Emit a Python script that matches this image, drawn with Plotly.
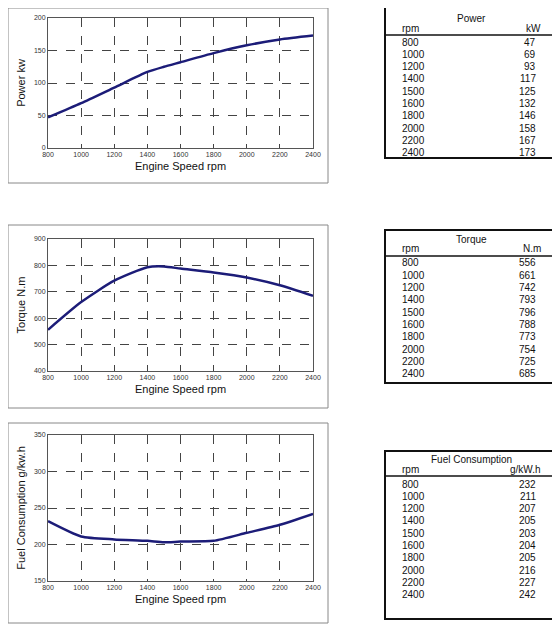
import plotly.graph_objects as go

rpm = [800, 1000, 1200, 1400, 1500, 1600, 1800, 2000, 2200, 2400]
power = [47, 69, 93, 117, 125, 132, 146, 158, 167, 173]
torque = [556, 661, 742, 793, 796, 788, 773, 754, 725, 685]
fuel = [232, 211, 207, 205, 203, 204, 205, 216, 227, 242]
xticks = [800, 1000, 1200, 1400, 1600, 1800, 2000, 2200, 2400]

W, H = 560, 625
OFF = 5
def px(x): return (x - OFF) / W
def py(y): return 1 - (y - OFF) / H

fig = go.Figure()
charts = [
    (power, "Power kw", [0, 200], 50, (15, 145), (5, 5, 325, 180)),
    (torque, "Torque N.m", [400, 900], 100, (236, 368), (5, 222, 325, 405)),
    (fuel, "Fuel Consumption g/kw.h", [150, 350], 50, (432, 578), (5, 420, 325, 620)),
]
FONT = "Liberation Sans"
shapes, annots = [], []
for i, (vals, ytitle, yr, dt, (yt, yb), box) in enumerate(charts):
    n = "" if i == 0 else str(i + 1)
    fig.add_trace(go.Scatter(x=rpm, y=vals, mode="lines", line=dict(color="#1c1c78", width=2.5, shape="spline", smoothing=0.6),
                             xaxis="x" + n, yaxis="y" + n, showlegend=False))
    ax = dict(domain=[px(45), px(310)], range=[800, 2400], tickvals=xticks, showgrid=True, automargin=False,
              gridcolor="#444", griddash="dash", gridwidth=1, linecolor="#555", mirror=True, showline=True,
              tickfont=dict(size=7, family=FONT, color="#333"), ticks="", zeroline=False,
              title=dict(text="Engine Speed rpm", font=dict(size=11, family=FONT, color="#111"), standoff=4),
              anchor="y" + n)
    ay = dict(domain=[py(yb), py(yt)], range=yr, dtick=dt, showgrid=True, gridcolor="#444", griddash="dash",
              automargin=False,
              linecolor="#555", mirror=True, showline=True, tickfont=dict(size=7, family=FONT, color="#333"),
              zeroline=False, title=dict(text=ytitle, font=dict(size=11, family=FONT, color="#111"), standoff=6),
              anchor="x" + n)
    fig.update_layout(**{"xaxis" + n: ax, "yaxis" + n: ay})
    x0, y0, x1, y1 = box
    shapes.append(dict(type="rect", xref="paper", yref="paper", x0=px(x0), x1=px(x1), y0=py(y0), y1=py(y1),
                       line=dict(color="#888", width=1)))

tables = [
    ("Power", "kW", power, (3, 155), 16, 25, 32, 39),
    ("Torque", "N.m", torque, (227, 380), 237, 246, 253, 260),
    ("Fuel Consumption", "g/kW.h", fuel, (448, 616), 456, 466, 473, 481),
]
for title, unit, vals, (ty0, ty1), tty, hy, ly, ry in tables:
    shapes.append(dict(type="rect", xref="paper", yref="paper", x0=px(382), x1=px(553), y0=py(ty0), y1=py(ty1),
                       line=dict(color="#111", width=2)))
    shapes.append(dict(type="line", xref="paper", yref="paper", x0=px(382), x1=px(553), y0=py(ly), y1=py(ly),
                       line=dict(color="#111", width=1.5)))
    f = dict(size=10, family=FONT, color="#111")
    common = dict(xref="paper", yref="paper", showarrow=False, font=f, yanchor="middle")
    annots.append(dict(text=title, x=px(468), y=py(tty), xanchor="center", **common))
    annots.append(dict(text="rpm", x=px(397), y=py(hy), xanchor="left", **common))
    annots.append(dict(text=unit, x=px(540), y=py(hy), xanchor="right", **common))
    for k, (r, v) in enumerate(zip(rpm, vals)):
        yy = py(ry + 12.3 * k)
        annots.append(dict(text=str(r), x=px(397), y=yy, xanchor="left", **common))
        annots.append(dict(text=str(v), x=px(535), y=yy, xanchor="right", **common))

fig.update_layout(width=W, height=H, margin=dict(l=0, r=0, t=0, b=0), paper_bgcolor="white",
                  plot_bgcolor="white", shapes=shapes, annotations=annots)
fig.write_html("out.html")
